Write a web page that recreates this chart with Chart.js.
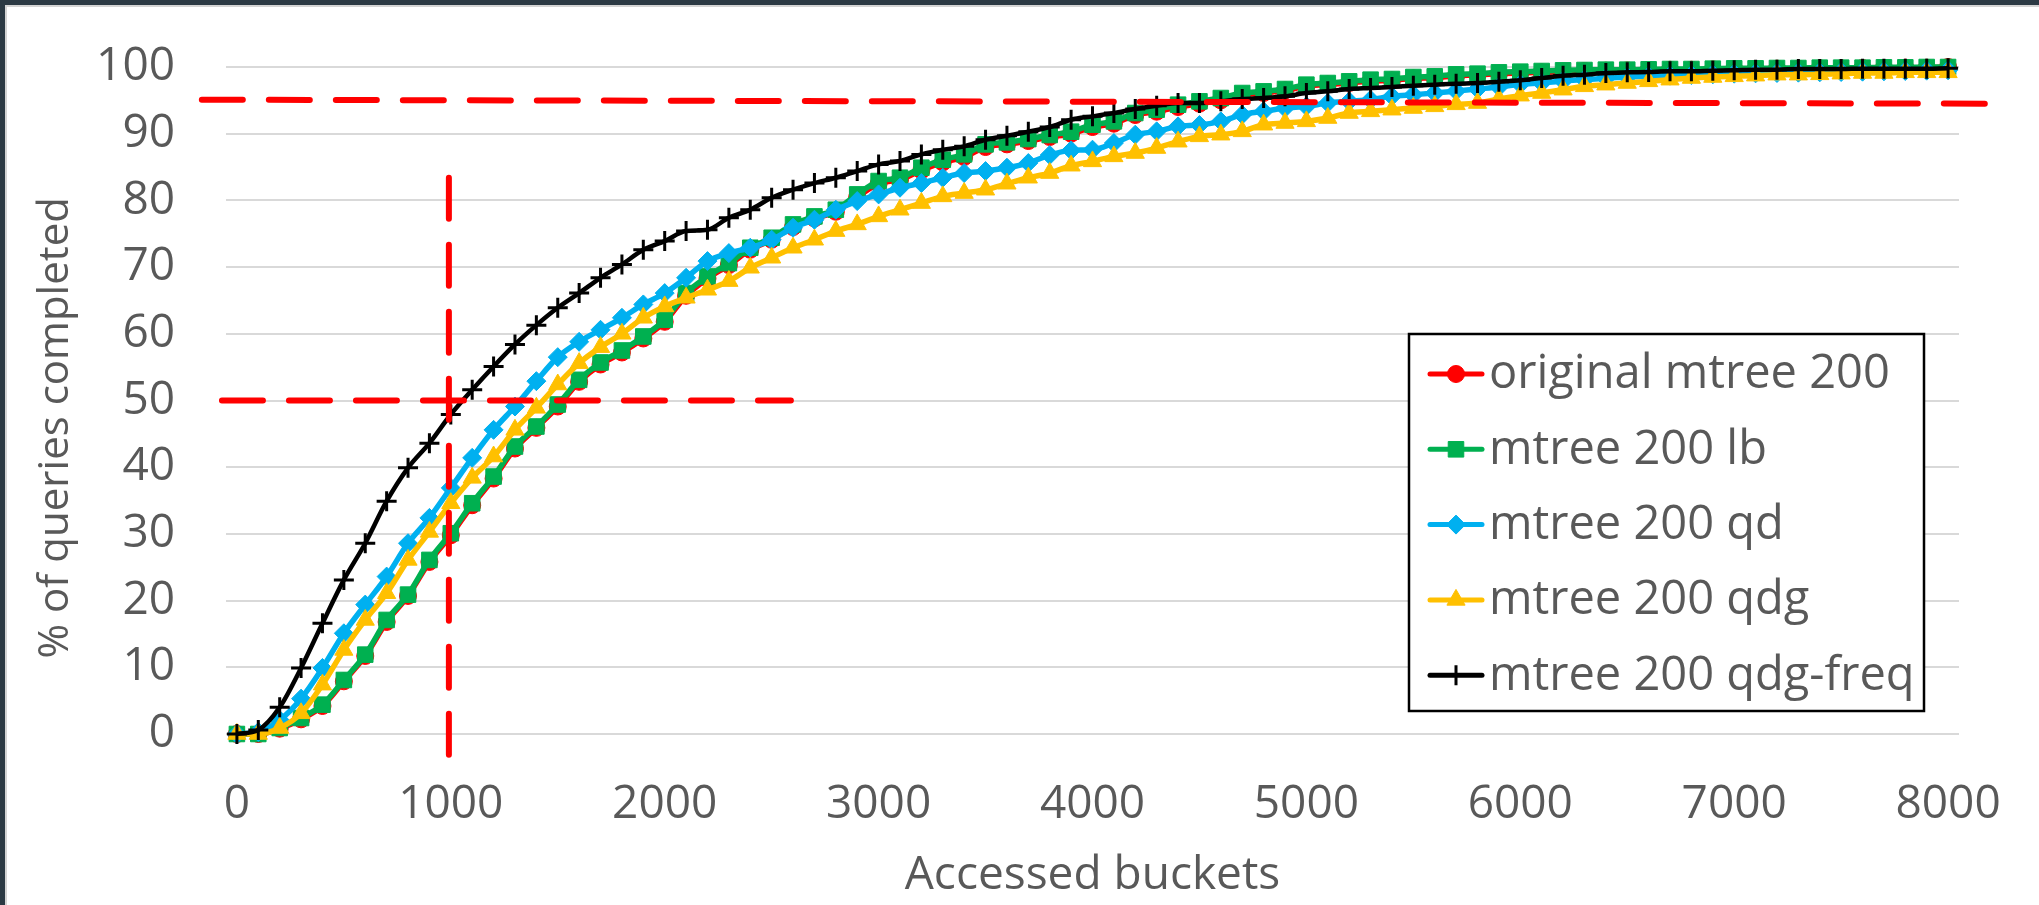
<!DOCTYPE html>
<html>
<head>
<meta charset="utf-8">
<script src="https://cdn.jsdelivr.net/npm/chart.js@4.4.1/dist/chart.umd.min.js"></script>
<style>
  html, body { margin: 0; padding: 0; background: #fff; }
  #wrapper { position: relative; width: 2039px; height: 905px; }
  #marco { position: absolute; left: 0; top: 0; width: 2039px; height: 905px; box-sizing: border-box;
           border-top: 5px solid #2c3a44; border-left: 5px solid #2c3a44;
           box-shadow: inset 2px 2px 0 #d4d4d4; pointer-events: none; }
</style>
</head>
<body>
<div id="wrapper">
  <canvas id="grafica"></canvas>
  <div id="marco"></div>
</div>
<script>
// accessed buckets (x) – one point every 100
const buckets = [0,100,200,300,400,500,600,700,800,900,
  1000,1100,1200,1300,1400,1500,1600,1700,1800,1900,
  2000,2100,2200,2300,2400,2500,2600,2700,2800,2900,
  3000,3100,3200,3300,3400,3500,3600,3700,3800,3900,
  4000,4100,4200,4300,4400,4500,4600,4700,4800,4900,
  5000,5100,5200,5300,5400,5500,5600,5700,5800,5900,
  6000,6100,6200,6300,6400,6500,6600,6700,6800,6900,
  7000,7100,7200,7300,7400,7500,7600,7700,7800,7900,
  8000]

const xTicks = [0,1000,2000,3000,4000,5000,6000,7000,8000]

// % of queries completed
const original200 = [0,0,0.8,2.2,4.2,7.9,11.7,16.8,20.7,25.8,
  29.8,34.3,38.3,42.8,45.9,49.1,52.8,55.4,57.2,59.3,
  61.8,65.7,68.3,70.3,72.6,74.1,76.0,77.3,78.3,80.5,
  82.5,83.1,84.5,85.7,86.5,88.0,88.4,88.9,89.5,90.0,
  91.0,91.5,92.8,93.3,94.0,94.5,95.0,95.8,96.1,96.5,
  97.1,97.4,97.6,97.9,98.0,98.3,98.4,98.7,98.8,99.0,
  99.1,99.2,99.3,99.4,99.45,99.5,99.55,99.6,99.6,99.65,
  99.7,99.7,99.75,99.75,99.8,99.8,99.85,99.85,99.9,99.9,
  100]

const lb200 = [0,0,0.9,2.4,4.4,8.1,11.9,17.1,20.9,26.1,
  30.1,34.6,38.6,43.1,46.1,49.4,53.1,55.7,57.5,59.6,
  62.1,66.1,68.6,70.6,72.9,74.4,76.4,77.6,78.6,80.9,
  82.9,83.4,84.9,86.1,86.9,88.4,88.7,89.2,89.8,90.3,
  91.35,91.85,93.1,93.6,94.35,94.85,95.35,96.1,96.35,96.7,
  97.35,97.6,97.85,98.1,98.2,98.5,98.6,98.9,99.0,99.2,
  99.3,99.4,99.5,99.55,99.6,99.6,99.65,99.7,99.7,99.75,
  99.8,99.8,99.85,99.85,99.9,99.9,99.9,99.95,99.95,100,
  100]

const qd200 = [0,0.3,2.1,5.3,9.9,15.1,19.4,23.6,28.6,32.4,
  36.9,41.4,45.6,49.1,52.9,56.5,58.8,60.6,62.4,64.4,
  66.1,68.4,70.9,72.1,72.9,74.1,75.9,77.1,78.6,79.9,
  80.9,81.9,82.6,83.4,84.1,84.4,84.9,85.6,86.8,87.5,
  87.6,88.6,89.85,90.35,91.1,91.3,91.85,92.85,93.35,93.85,
  94.1,94.6,94.85,95.1,95.6,95.85,96.1,96.4,96.7,97.0,
  97.4,97.6,97.9,98.1,98.3,98.5,98.6,98.7,98.8,98.9,
  99.0,99.05,99.1,99.15,99.2,99.25,99.3,99.35,99.4,99.45,
  99.5]

const qdg200 = [0,0,0.9,3.1,7.4,12.6,17.1,21.1,26.1,30.3,
  34.6,38.4,41.6,45.6,48.9,52.4,55.6,58.0,60.0,62.4,
  64.1,65.4,66.6,67.9,69.9,71.4,72.9,74.1,75.4,76.4,
  77.6,78.6,79.6,80.6,81.1,81.6,82.5,83.4,84.1,85.2,
  85.85,86.6,87.1,87.85,88.8,89.6,89.85,90.35,91.35,91.6,
  91.85,92.35,93.1,93.35,93.6,93.85,94.1,94.4,94.6,95.2,
  95.7,96.1,96.6,97.1,97.35,97.6,97.85,98.1,98.35,98.5,
  98.6,98.7,98.85,98.85,98.9,99.0,99.1,99.1,99.2,99.2,
  99.2]

const qdgFreq200 = [0,0.6,4.0,9.9,16.6,23.1,28.6,34.9,39.9,43.6,
  47.9,51.6,55.1,58.4,61.3,63.9,66.1,68.4,70.4,72.6,
  73.9,75.4,75.6,77.4,78.6,80.4,81.6,82.6,83.4,84.4,
  85.4,85.9,86.9,87.6,88.1,89.1,89.7,90.3,91.0,92.1,
  92.6,93.1,93.7,94.2,94.6,94.6,94.85,95.2,95.35,95.6,
  96.1,96.35,96.7,96.85,97.0,97.2,97.35,97.5,97.6,97.8,
  98.0,98.35,98.7,98.85,99.1,99.2,99.25,99.35,99.35,99.45,
  99.5,99.6,99.6,99.7,99.7,99.7,99.75,99.75,99.75,99.75,
  99.8]

// red guide lines drawn over the chart [x, y]
const guia95 = [[-164, 95.1], [8187, 94.5]]
const guia50 = [[-70, 50], [2590, 50]]
const guia1000 = [[991, 83.4], [991, -3.6]]

const series = [
  { label: 'original mtree 200', values: original200, color: '#FF0000', style: 'circle', radius: 8.5, pointBorder: 1, width: 5.5 },
  { label: 'mtree 200 lb', values: lb200, color: '#00B050', style: 'rect', radius: 11, pointBorder: 1, width: 5.5 },
  { label: 'mtree 200 qd', values: qd200, color: '#00B0F0', style: 'rectRot', radius: 9.5, pointBorder: 1, width: 5.5 },
  { label: 'mtree 200 qdg', values: qdg200, color: '#FFC000', style: 'triangle', radius: 10.5, pointBorder: 1, width: 5.5 },
  { label: 'mtree 200 qdg-freq', values: qdgFreq200, color: '#000000', style: 'cross', radius: 10, pointBorder: 3, width: 4.5 }
]

const gris = '#595959'
Chart.defaults.font.family = '"Open Sans", "Liberation Sans", sans-serif'

function puntos(vals) {
  return buckets.map((b, i) => ({ x: b, y: vals[i] }))
}

function guia(par) {
  return {
    data: par.map(p => ({ x: p[0], y: p[1] })),
    borderColor: '#FF0000', borderWidth: 6, borderDash: [41, 26], borderCapStyle: 'round',
    pointRadius: 0, clip: false, order: 0, tension: 0
  }
}

var datasets = series.map((s, i) => ({
  label: s.label,
  data: puntos(s.values),
  borderColor: s.color,
  backgroundColor: s.color,
  borderWidth: s.width,
  borderJoinStyle: 'round',
  pointStyle: s.style,
  pointRadius: s.radius,
  pointBorderWidth: s.pointBorder,
  pointBackgroundColor: s.color,
  pointBorderColor: s.color,
  cubicInterpolationMode: 'monotone',
  clip: false,
  order: series.length - i
}))
datasets.push(guia(guia95), guia(guia50), guia(guia1000))

// legend box inside the plot, like the Excel one
const leyenda = {
  id: 'leyenda',
  afterDraw(chart) {
    const ctx = chart.ctx
    const caja = { x: 1409, y: 334, w: 515, h: 377 }
    ctx.save()
    ctx.fillStyle = '#fff'
    ctx.fillRect(caja.x, caja.y, caja.w, caja.h)
    ctx.lineWidth = 2.5
    ctx.strokeStyle = '#000'
    ctx.strokeRect(caja.x, caja.y, caja.w, caja.h)
    series.forEach((s, i) => {
      const y = 374 + i * 75.3
      ctx.strokeStyle = s.color
      ctx.fillStyle = s.color
      ctx.lineWidth = 5
      ctx.lineCap = 'round'
      ctx.beginPath()
      ctx.moveTo(1430, y)
      ctx.lineTo(1482, y)
      ctx.stroke()
      ctx.lineCap = 'butt'
      ctx.lineWidth = s.pointBorder
      Chart.helpers.drawPoint(ctx, { pointStyle: s.style, radius: s.radius, borderWidth: s.pointBorder, rotation: 0 }, 1456, y)
      ctx.fillStyle = gris
      ctx.font = '47px "Open Sans"'
      ctx.textBaseline = 'middle'
      ctx.textAlign = 'left'
      ctx.fillText(s.label, 1489, y + 1)
    })
    ctx.restore()
  }
}

new Chart(document.getElementById('grafica'), {
  type: 'line',
  data: { datasets: datasets },
  options: {
    responsive: true,
    maintainAspectRatio: false,
    animation: false,
    layout: { padding: { left: 18, top: 67, right: 80, bottom: 0 } },
    plugins: { legend: { display: false }, tooltip: { enabled: false } },
    scales: {
      x: {
        type: 'linear',
        min: -51,
        max: 8051,
        afterBuildTicks: s => { s.ticks = xTicks.map(v => ({ value: v })) },
        afterFit: s => { s.height = 171; s.paddingLeft = 0; s.paddingRight = 0 },
        grid: { display: false, drawTicks: false },
        border: { display: false },
        ticks: { padding: 43, color: gris, font: { size: 46 }, maxRotation: 0, autoSkip: false, callback: v => String(v) },
        title: { display: true, text: 'Accessed buckets', color: gris, font: { size: 46 }, padding: { top: 0, bottom: 2 } }
      },
      y: {
        min: 0,
        max: 100,
        afterFit: s => { s.width = 208; s.paddingTop = 0; s.paddingBottom = 0 },
        grid: { color: '#d9d9d9', lineWidth: 2, drawTicks: false },
        border: { display: false },
        ticks: { stepSize: 10, padding: 51, color: gris, font: { size: 46 } },
        title: { display: true, text: '% of queries completed     ', color: gris, font: { size: 42 }, padding: { top: 13, bottom: 0 } }
      }
    }
  },
  plugins: [leyenda]
})
</script>
</body>
</html>
